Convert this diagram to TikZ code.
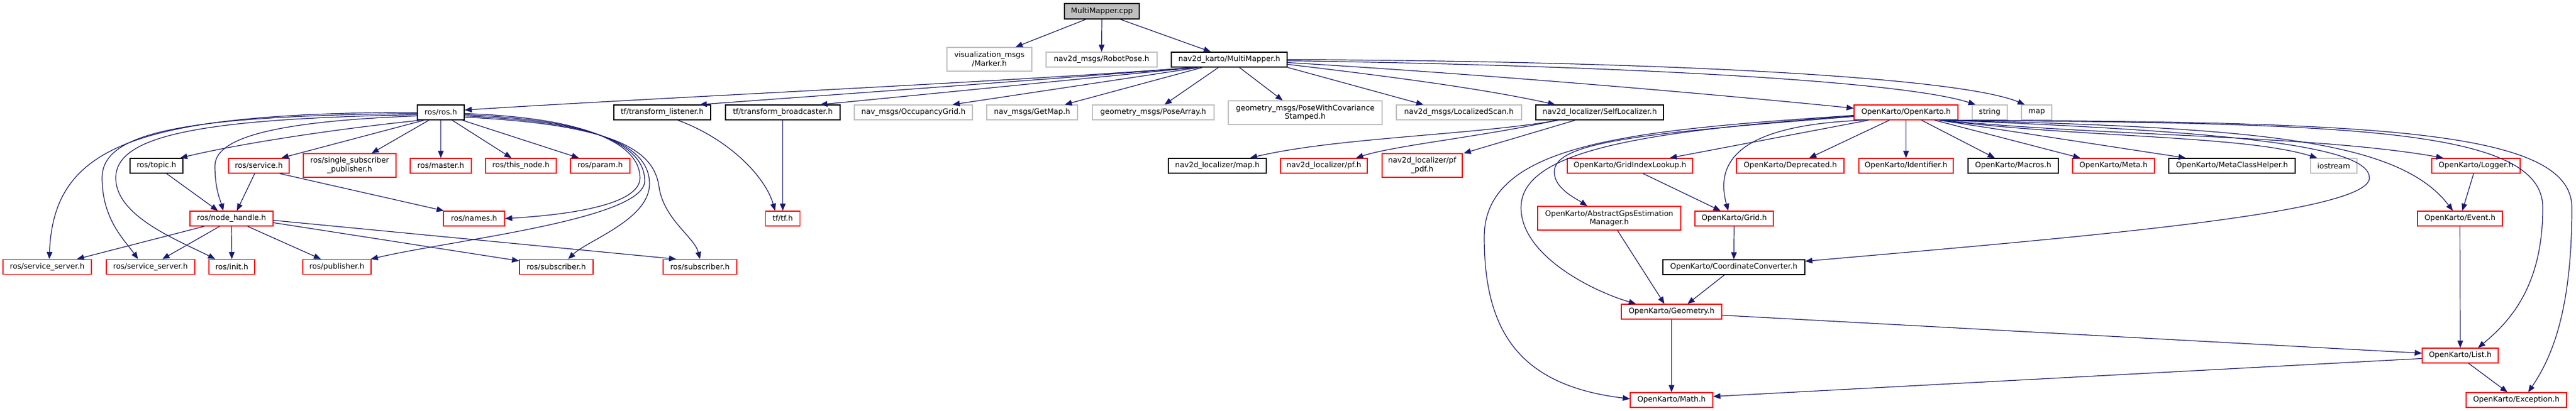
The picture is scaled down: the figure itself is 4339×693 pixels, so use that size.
\documentclass[tikz,border=0pt]{standalone}
\usepackage{fontspec}
\setmainfont{DejaVu Sans}
\usetikzlibrary{arrows.meta}
\definecolor{edgec}{HTML}{191970}
\definecolor{greyb}{HTML}{BFBFBF}
\begin{document}
\begin{tikzpicture}[x=1pt,y=-1pt,
  base/.style={draw, line width=1.3pt, inner sep=0pt, fill=white, align=center,
    font=\fontsize{12.6}{14.7}\selectfont},
  sz/.style 2 args={minimum width=#1pt, minimum height=#2pt},
  gn/.style={base, draw=greyb},
  rn/.style={base, draw=red},
  bn/.style={base, draw=black},
  root/.style={base, draw=black, fill=greyb},
  e/.style={draw=edgec, line width=1.2pt, -{Triangle[length=12pt,width=9.5pt]}}]
\useasboundingbox[fill=white] (0,0) rectangle (4339,693);
% row 0
\node[root, sz={126}{26}] (cpp) at (1856,19) {MultiMapper.cpp};
% row 1
\node[gn, sz={143}{40}] (marker) at (1666.5,100) {visualization\_msgs\\/Marker.h};
\node[gn, sz={187}{25}] (robotpose) at (1855.5,100.5) {nav2d\_msgs/RobotPose.h};
\node[bn, sz={195}{25}] (mmh) at (2070.5,100.5) {nav2d\_karto/MultiMapper.h};
% row 2
\node[bn, sz={79}{25}] (rosh) at (742.5,189.5) {ros/ros.h};
\node[bn, sz={163}{25}] (listener) at (1115.5,189.5) {tf/transform\_listener.h};
\node[bn, sz={193}{25}] (broadcaster) at (1318.5,189.5) {tf/transform\_broadcaster.h};
\node[gn, sz={199}{25}] (occgrid) at (1538.5,189.5) {nav\_msgs/OccupancyGrid.h};
\node[gn, sz={153}{25}] (getmap) at (1738.5,189.5) {nav\_msgs/GetMap.h};
\node[gn, sz={205}{25}] (posearray) at (1942.5,189.5) {geometry\_msgs/PoseArray.h};
\node[gn, sz={259}{40}] (posecov) at (2198.5,190) {geometry\_msgs/PoseWithCovariance\\Stamped.h};
\node[gn, sz={211}{25}] (locscan) at (2457.5,189.5) {nav2d\_msgs/LocalizedScan.h};
\node[bn, sz={215}{25}] (selfloc) at (2694.5,189.5) {nav2d\_localizer/SelfLocalizer.h};
\node[rn, sz={175}{25}] (okarto) at (3210.5,189.5) {OpenKarto/OpenKarto.h};
\node[gn, sz={59}{25}] (string) at (3351.5,189.5) {string};
\node[gn, sz={51}{25}] (map) at (3430.5,189.5) {map};
% row 3
\node[bn, sz={89}{25}] (topic) at (263.5,279.5) {ros/topic.h};
\node[rn, sz={102}{25}] (service) at (436,279.5) {ros/service.h};
\node[rn, sz={156}{40}] (singlesub) at (589,279) {ros/single\_subscriber\\\_publisher.h};
\node[rn, sz={103}{25}] (master) at (742.5,279.5) {ros/master.h};
\node[rn, sz={119}{25}] (thisnode) at (877.5,279.5) {ros/this\_node.h};
\node[rn, sz={100}{25}] (param) at (1011,279.5) {ros/param.h};
\node[bn, sz={165}{25}] (locmap) at (2050.5,279.5) {nav2d\_localizer/map.h};
\node[rn, sz={146}{25}] (pf) at (2230,279.5) {nav2d\_localizer/pf.h};
\node[rn, sz={135}{40}] (pfpdf) at (2395.5,279) {nav2d\_localizer/pf\\\_pdf.h};
\node[rn, sz={211}{25}] (gridindex) at (2745.5,279.5) {OpenKarto/GridIndexLookup.h};
\node[rn, sz={181}{25}] (deprecated) at (3015.5,279.5) {OpenKarto/Deprecated.h};
\node[rn, sz={159}{25}] (identifier) at (3210.5,279.5) {OpenKarto/Identifier.h};
\node[bn, sz={152}{25}] (macros) at (3391,279.5) {OpenKarto/Macros.h};
\node[rn, sz={138}{25}] (meta) at (3560,279.5) {OpenKarto/Meta.h};
\node[bn, sz={213}{25}] (metaclass) at (3759.5,279.5) {OpenKarto/MetaClassHelper.h};
\node[gn, sz={78}{25}] (iostream) at (3931,279.5) {iostream};
\node[rn, sz={149}{25}] (logger) at (4170.5,279.5) {OpenKarto/Logger.h};
% row 4
\node[rn, sz={140}{25}] (nodehandle) at (390,368.5) {ros/node\_handle.h};
\node[rn, sz={103}{25}] (names) at (798.5,368.5) {ros/names.h};
\node[rn, sz={58}{25}] (tftf) at (1318.5,368.5) {tf/tf.h};
\node[rn, sz={241}{40}] (abstractgps) at (2710.5,368) {OpenKarto/AbstractGpsEstimation\\Manager.h};
\node[rn, sz={132}{25}] (grid) at (2921,368.5) {OpenKarto/Grid.h};
\node[rn, sz={143}{25}] (event) at (4143.5,368.5) {OpenKarto/Event.h};
% row 5
\node[rn, sz={149}{25}] (ss1) at (79.5,450) {ros/service\_server.h};
\node[rn, sz={149}{25}] (ss2) at (253.5,450) {ros/service\_server.h};
\node[rn, sz={77}{25}] (init) at (390.5,450) {ros/init.h};
\node[rn, sz={115}{25}] (publisher) at (567.5,450) {ros/publisher.h};
\node[rn, sz={124}{25}] (sub1) at (937,450) {ros/subscriber.h};
\node[rn, sz={124}{25}] (sub2) at (1179,450) {ros/subscriber.h};
\node[bn, sz={239}{25}] (coordconv) at (2920.5,450.5) {OpenKarto/CoordinateConverter.h};
% rows 6-8
\node[rn, sz={169}{25}] (geometry) at (2815.5,525.5) {OpenKarto/Geometry.h};
\node[rn, sz={128}{25}] (list) at (4144,599.5) {OpenKarto/List.h};
\node[rn, sz={139}{25}] (math) at (2815.5,674.5) {OpenKarto/Math.h};
\node[rn, sz={169}{25}] (exception) at (4238.5,674.5) {OpenKarto/Exception.h};

% edges from MultiMapper.cpp
\draw[e] ([xshift=-27pt]cpp.south) -- ([xshift=44pt]marker.north);
\draw[e] (cpp.south) -- (robotpose.north);
\draw[e] ([xshift=31pt]cpp.south) -- ([xshift=-31pt]mmh.north);
% edges from MultiMapper.h
\draw[e] ([xshift=-60pt]mmh.south) .. controls (1700,138) and (1100,165) .. ([yshift=4pt]rosh.east);
\draw[e] ([xshift=-57pt]mmh.south) .. controls (1750,135) and (1400,160) .. ([xshift=63pt]listener.north);
\draw[e] ([xshift=-54pt]mmh.south) .. controls (1800,135) and (1550,160) .. ([xshift=63pt]broadcaster.north);
\draw[e] ([xshift=-50pt]mmh.south) -- ([xshift=66pt]occgrid.north);
\draw[e] ([xshift=-45pt]mmh.south) -- ([xshift=55pt]getmap.north);
\draw[e] ([xshift=-18pt]mmh.south) -- ([xshift=19pt]posearray.north);
\draw[e] ([xshift=17pt]mmh.south) -- ([xshift=-38pt]posecov.north);
\draw[e] (mmh.south east) -- ([xshift=-60pt]locscan.north);
\draw[e] ([yshift=-8pt]mmh.east) .. controls (2350,130) and (2500,150) .. ([xshift=-75pt]selfloc.north);
\draw[e] ([yshift=-5pt]mmh.east) .. controls (2500,125) and (2900,160) .. ([yshift=7pt]okarto.west);
\draw[e] ([yshift=-2pt]mmh.east) .. controls (2700,110) and (3200,135) .. ([xshift=-24pt]string.north);
\draw[e] (mmh.east) .. controls (2800,103) and (3300,130) .. ([xshift=-20pt]map.north);
% edges from ros/ros.h
\draw[e] (rosh.west) .. controls (220,190) and (90,250) .. ([xshift=3.5pt]ss1.north);
\draw[e] ([yshift=-2pt]rosh.west) .. controls (300,195) and (172,225) .. (172,300)
   .. controls (172,370) and (210,405) .. ([xshift=-21pt]ss2.north);
\draw[e] ([yshift=-4pt]rosh.west) .. controls (330,200) and (195,230) .. (195,300)
   .. controls (195,365) and (300,405) .. ([xshift=-28pt]init.north);
\draw[e] ([yshift=-6pt]rosh.west) .. controls (450,205) and (362,235) .. (362,280)
   .. controls (362,320) and (372,340) .. ([xshift=-14pt]nodehandle.north);
\draw[e] ([xshift=-33pt]rosh.south) .. controls (560,218) and (400,243) .. ([xshift=40pt]topic.north);
\draw[e] ([xshift=-28pt]rosh.south) -- ([xshift=38pt]service.north);
\draw[e] ([xshift=-20pt]rosh.south) -- ([xshift=37pt]singlesub.north);
\draw[e] (rosh.south) -- (master.north);
\draw[e] ([xshift=19pt]rosh.south) -- ([xshift=-16pt]thisnode.north);
\draw[e] ([xshift=36pt]rosh.south) -- ([xshift=-36pt]param.north);
\draw[e] ([yshift=-2pt]rosh.east) .. controls (980,198) and (1078,240) .. (1078,300)
   .. controls (1078,345) and (960,362) .. (names.east);
\draw[e] ([yshift=-4pt]rosh.east) .. controls (1000,202) and (1086,245) .. (1086,305)
   .. controls (1086,370) and (760,405) .. ([xshift=57pt]publisher.north);
\draw[e] ([yshift=-6pt]rosh.east) .. controls (1020,206) and (1094,250) .. (1094,310)
   .. controls (1094,370) and (990,405) .. ([xshift=20pt]sub1.north);
\draw[e] ([yshift=-8pt]rosh.east) .. controls (1040,210) and (1102,255) .. (1110,315)
   .. controls (1118,370) and (1170,400) .. (sub2.north);
% ros subtree
\draw[e] ([xshift=17pt]topic.south) -- ([xshift=-23pt]nodehandle.north);
\draw[e] ([xshift=-7pt]service.south) -- ([xshift=9pt]nodehandle.north);
\draw[e] ([xshift=35pt]service.south) -- ([xshift=-51pt]names.north);
\draw[e] ([xshift=-46pt]nodehandle.south) -- ([xshift=50pt]ss1.north);
\draw[e] ([xshift=-20pt]nodehandle.south) -- ([xshift=20pt]ss2.north);
\draw[e] (nodehandle.south) -- (init.north);
\draw[e] ([xshift=27pt]nodehandle.south) -- ([xshift=-27pt]publisher.north);
\draw[e] ([yshift=-7pt]nodehandle.east) -- ([yshift=-3pt]sub1.north west);
\draw[e] ([yshift=-3pt]nodehandle.east) -- ([xshift=-40pt]sub2.north);
% tf
\draw[e] ([xshift=26pt]listener.south) .. controls (1230,235) and (1290,300) .. ([xshift=-13pt]tftf.north);
\draw[e] (broadcaster.south) -- (tftf.north);
% SelfLocalizer
\draw[e] ([xshift=-69pt]selfloc.south) .. controls (2480,228) and (2250,232) .. ([xshift=55pt]locmap.north);
\draw[e] ([xshift=-72pt]selfloc.south) .. controls (2500,230) and (2350,245) .. ([xshift=54pt]pf.north);
\draw[e] ([xshift=-41pt]selfloc.south) -- ([xshift=70pt]pfpdf.north);
% OpenKarto
\draw[e] ([yshift=-5pt]okarto.west) .. controls (2750,220) and (2500,240) .. (2500,400)
   .. controls (2500,560) and (2560,650) .. ([yshift=2pt]math.west);
\draw[e] ([yshift=-6pt]okarto.west) .. controls (2760,222) and (2562,255) .. (2562,350)
   .. controls (2562,430) and (2680,490) .. ([xshift=-60pt]geometry.north);
\draw[e] ([yshift=-7pt]okarto.west) .. controls (2760,225) and (2618,240) .. (2618,290)
   .. controls (2618,318) and (2655,335) .. ([xshift=-37pt]abstractgps.north);
\draw[e] ([xshift=-63pt]okarto.south) -- ([xshift=67pt]gridindex.north);
\draw[e] ([xshift=-70pt]okarto.south) .. controls (2950,210) and (2885,260) .. ([xshift=-10pt]grid.north);
\draw[e] ([xshift=-28pt]okarto.south) -- ([xshift=32pt]deprecated.north);
\draw[e] (okarto.south) -- (identifier.north);
\draw[e] ([xshift=26pt]okarto.south) -- ([xshift=-31pt]macros.north);
\draw[e] ([xshift=48pt]okarto.south) -- ([xshift=-56pt]meta.north);
\draw[e] ([xshift=55pt]okarto.south) -- ([xshift=-78pt]metaclass.north);
\draw[e] ([xshift=58pt]okarto.south) .. controls (3500,232) and (3780,228) .. ([xshift=-28pt]iostream.north);
\draw[e] ([xshift=60pt]okarto.south) .. controls (3550,230) and (3900,228) .. ([xshift=-55pt]logger.north);
\draw[e] ([xshift=62pt]okarto.south) .. controls (3800,215) and (4040,235) .. ([xshift=-12pt]event.north);
\draw[e] ([xshift=64pt]okarto.south) .. controls (3950,208) and (4283,215) .. (4283,350)
   .. controls (4283,480) and (4230,540) .. ([xshift=30pt]list.north);
\draw[e] ([xshift=66pt]okarto.south) .. controls (4000,205) and (4332,218) .. (4332,350)
   .. controls (4332,520) and (4300,600) .. ([xshift=20pt]exception.north);
\draw[e] ([xshift=68pt]okarto.south) .. controls (3750,222) and (3991,245) .. (3991,300)
   .. controls (3991,360) and (3500,400) .. ([yshift=10pt]coordconv.east);
\draw[e] ([xshift=22pt]gridindex.south) -- ([xshift=-23pt]grid.north);
\draw[e] (grid.south) -- (coordconv.north);
\draw[e] ([xshift=14pt]abstractgps.south) -- ([xshift=-12pt]geometry.north);
\draw[e] ([xshift=-16pt]coordconv.south) -- ([xshift=27pt]geometry.north);
\draw[e] (geometry.south) -- (math.north);
\draw[e] ([yshift=-6pt]geometry.east) -- ([yshift=4pt]list.west);
\draw[e] ([yshift=-5pt]list.west) -- ([yshift=6pt]math.east);
\draw[e] ([xshift=-4pt]logger.south) -- ([xshift=4pt]event.north);
\draw[e] (event.south) -- (list.north);
\draw[e] ([xshift=14pt]list.south) -- ([xshift=-15pt]exception.north);
\end{tikzpicture}
\end{document}
